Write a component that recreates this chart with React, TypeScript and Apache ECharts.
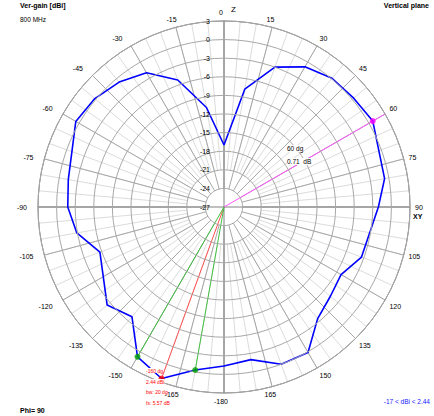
import React, { useEffect, useRef } from 'react';
import * as echarts from 'echarts';

// Pattern (angle in degrees clockwise from Z, 0..360; gain in dBi)
const gainAngles = [0, 10, 20, 30, 40, 50, 60, 80, 90, 110, 120, 130, 140, 150, 160, 170, 180, 190, 200, 210, 220, 230, 250, 260, 270, 280, 300, 310, 320, 330, 340, 350, 360];
const gainValues = [-17, -7.7, -3.0, -0.9, 0.1, 0.3, 0.71, -0.7, -2.1, -3.4, -5.2, -4.6, -3.5, 0.1, 0.0, -2.0, -1.35, -0.3, 2.44, 0.9, -3.9, -2.4, -5.7, -2.9, -1.8, -1.5, 0.6, 0.2, -0.7, -2.0, -5.2, -10.7, -17];

// Markers
const cursorAngle = 60;
const cursorGain = 0.71;
const maxAngle = 200; // -160 dg
const maxGain = 2.44;
const bwAngles = [190, 210];
const bwGains = [-0.3, 0.9];

const rMin = -27;
const rMax = 3;
const rStep = 3;

const FONT = '"Liberation Sans Narrow", "Liberation Sans", Arial, sans-serif';

export default function App() {
  const ref = useRef<HTMLDivElement>(null);
  useEffect(() => {
    if (!ref.current) return;
    const chart = echarts.init(ref.current, undefined, { renderer: 'svg' });
    const center = [224, 207];
    const R = 186;
    const ringStepPx = R / ((rMax - rMin) / rStep);
    const baseAngle = (idx: number, interval: number, color: string, extra: any = {}) => ({
      polarIndex: idx,
      type: 'value',
      min: 0,
      max: 360,
      interval,
      startAngle: 90,
      clockwise: true,
      axisLine: { show: false },
      axisTick: { show: false },
      axisLabel: { show: false },
      splitLine: { show: true, lineStyle: { color, width: 1 } },
      z: 1,
      ...extra,
    });
    const hiddenRadius = (idx: number) => ({
      polarIndex: idx,
      type: 'value',
      min: rMin,
      max: rMax,
      axisLine: { show: false },
      axisTick: { show: false },
      axisLabel: { show: false },
      splitLine: { show: false },
    });
    const toPolar = (vals: number[], angs: number[]) => vals.map((v, i) => [v, angs[i]]);
    const option: any = {
      animation: false,
      backgroundColor: '#ffffff',
      polar: [
        { center, radius: [ringStepPx * 2, R] },
        { center, radius: [ringStepPx, R] },
        { center, radius: [0, R] },
      ],
      angleAxis: [
        baseAngle(0, 5, '#dcdcdc'),
        baseAngle(1, 15, '#a8a8a8', {
          min: -180,
          max: 180,
          startAngle: 270,
          axisLabel: {
            show: true,
            showMinLabel: true,
            showMaxLabel: false,
            margin: 5,
            padding: [0, 6, 0, 0],
            fontSize: 7,
            fontFamily: FONT,
            color: '#000',
            formatter: (v: number) => String(v),
          },
        }),
        baseAngle(2, 90, '#808080', {
          axisLine: { show: true, lineStyle: { color: '#787878', width: 1 } },
        }),
      ],
      radiusAxis: [
        hiddenRadius(0),
        hiddenRadius(1),
        {
          polarIndex: 2,
          type: 'value',
          min: rMin,
          max: rMax,
          interval: rStep,
          axisLine: { show: false },
          axisTick: { show: false },
          axisLabel: {
            show: true,
            fontSize: 7,
            fontFamily: FONT,
            color: '#000',
            margin: 14,
          },
          splitLine: { show: true, lineStyle: { color: '#a8a8a8', width: 1 } },
          z: 5,
        },
      ],
      series: [
        {
          type: 'line',
          coordinateSystem: 'polar',
          polarIndex: 2,
          data: [[rMin, cursorAngle], [rMax, cursorAngle]],
          symbol: 'none',
          lineStyle: { color: '#ff55ff', width: 1 },
          z: 3,
        },
        {
          type: 'line',
          coordinateSystem: 'polar',
          polarIndex: 2,
          data: [[rMin, maxAngle], [maxGain, maxAngle]],
          symbol: 'none',
          lineStyle: { color: '#ff5050', width: 1 },
          z: 3,
        },
        ...bwAngles.map((a, i) => ({
          type: 'line',
          coordinateSystem: 'polar',
          polarIndex: 2,
          data: [[rMin, a], [bwGains[i], a]],
          symbol: 'none',
          lineStyle: { color: '#40c040', width: 1 },
          z: 3,
        })),
        {
          type: 'line',
          coordinateSystem: 'polar',
          polarIndex: 2,
          data: toPolar(gainValues, gainAngles),
          symbol: 'none',
          lineStyle: { color: '#0000ff', width: 1.6 },
          z: 4,
        },
        {
          type: 'scatter',
          coordinateSystem: 'polar',
          polarIndex: 2,
          data: [[cursorGain, cursorAngle]],
          symbolSize: 6,
          itemStyle: { color: '#ff00ff' },
          z: 6,
        },
        {
          type: 'scatter',
          coordinateSystem: 'polar',
          polarIndex: 2,
          data: toPolar(bwGains, bwAngles),
          symbolSize: 6,
          itemStyle: { color: '#00a000' },
          z: 6,
        },
        {
          type: 'scatter',
          coordinateSystem: 'polar',
          polarIndex: 2,
          data: [[maxGain, maxAngle]],
          symbolSize: 6,
          itemStyle: { color: '#ff0000' },
          z: 6,
        },
      ],
      graphic: [
        { type: 'text', x: 20, y: 2, z: 20, style: { text: 'Ver-gain [dBi]', fontSize: 7, fontWeight: 'bold', fontFamily: FONT, fill: '#000' } },
        { type: 'text', x: 20, y: 16, z: 20, style: { text: '800 MHz', fontSize: 6.5, fontFamily: FONT, fill: '#000' } },
        { type: 'text', x: 429, y: 2, z: 20, style: { text: 'Vertical plane', fontSize: 7, fontWeight: 'bold', fontFamily: FONT, fill: '#000', align: 'right' } },
        { type: 'text', x: 20, y: 407, z: 20, style: { text: 'Phi= 90', fontSize: 7, fontWeight: 'bold', fontFamily: FONT, fill: '#000' } },
        { type: 'text', x: 430, y: 398, z: 20, style: { text: '-17 < dBi < 2.44', fontSize: 6.5, fontFamily: FONT, fill: '#2020ff', align: 'right' } },
        { type: 'text', x: 231, y: 5, z: 20, style: { text: 'Z', fontSize: 8, fontFamily: FONT, fill: '#000' } },
        { type: 'text', x: 413, y: 213, z: 20, style: { text: 'XY', fontSize: 7, fontWeight: 'bold', fontFamily: FONT, fill: '#000' } },
        { type: 'text', x: 287, y: 145, z: 20, style: { text: '60 dg', fontSize: 6.5, fontFamily: FONT, fill: '#000', backgroundColor: '#fff' } },
        { type: 'text', x: 287, y: 158, z: 20, style: { text: '0.71  dB', fontSize: 6.5, fontFamily: FONT, fill: '#000', backgroundColor: '#fff' } },
        { type: 'text', x: 146, y: 368, z: 20, style: { text: '-160 dg', fontSize: 5, fontFamily: FONT, fill: '#ff0000', backgroundColor: '#fff' } },
        { type: 'text', x: 146, y: 379, z: 20, style: { text: '2.44 dBi', fontSize: 5, fontFamily: FONT, fill: '#ff0000', backgroundColor: '#fff' } },
        { type: 'text', x: 146, y: 389, z: 20, style: { text: 'bw: 20 dg', fontSize: 5, fontFamily: FONT, fill: '#ff0000' } },
        { type: 'text', x: 146, y: 400, z: 20, style: { text: 'fs: 5.57 dB', fontSize: 5, fontFamily: FONT, fill: '#ff0000' } },
      ],
    };
    chart.setOption(option);
    return () => chart.dispose();
  }, []);
  return <div ref={ref} style={{ width: 434, height: 416, position: 'absolute', left: 0, top: 0 }} />;
}
